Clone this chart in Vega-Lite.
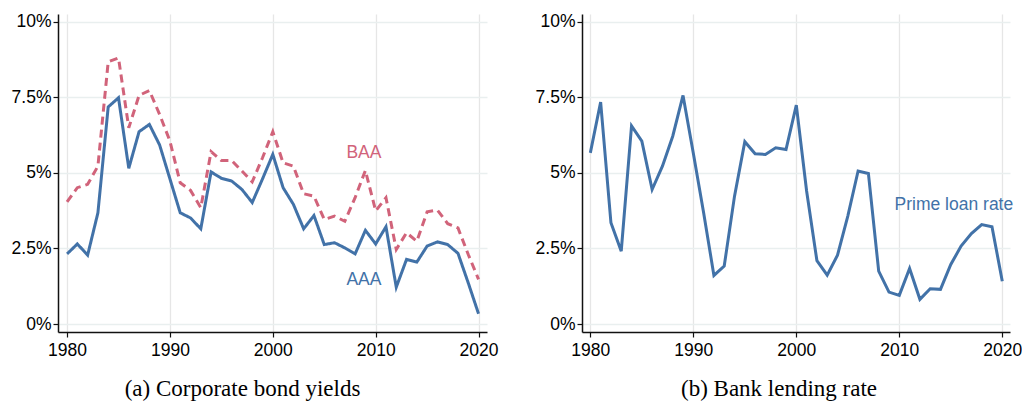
{
  "$schema": "https://vega.github.io/schema/vega-lite/v6.json",
  "background": "white",
  "padding": {"left": 11, "top": 12, "right": 0, "bottom": 0},
  "config": {
    "view": {"stroke": null},
    "axis": {
      "domainColor": "#111111", "domainWidth": 1.5,
      "tickColor": "#111111", "tickWidth": 1.2, "tickSize": 5,
      "labelFont": "Liberation Sans", "labelFontSize": 17.5, "labelColor": "#000000",
      "gridWidth": 1.3, "title": null, "labelFlush": false, "labelOverlap": false
    },
    "title": {"font": "Liberation Serif", "fontSize": 23, "fontWeight": "normal", "color": "#000000", "orient": "bottom", "anchor": "middle", "frame": "group"}
  },
  "datasets": {
    "bonds": [
      {"year": 1980, "series": "AAA", "value": 2.32}, {"year": 1981, "series": "AAA", "value": 2.65}, {"year": 1982, "series": "AAA", "value": 2.28}, {"year": 1983, "series": "AAA", "value": 3.68}, {"year": 1984, "series": "AAA", "value": 7.18}, {"year": 1985, "series": "AAA", "value": 7.48}, {"year": 1986, "series": "AAA", "value": 5.15}, {"year": 1987, "series": "AAA", "value": 6.36}, {"year": 1988, "series": "AAA", "value": 6.6}, {"year": 1989, "series": "AAA", "value": 5.92},
      {"year": 1990, "series": "AAA", "value": 4.8}, {"year": 1991, "series": "AAA", "value": 3.68}, {"year": 1992, "series": "AAA", "value": 3.51}, {"year": 1993, "series": "AAA", "value": 3.15}, {"year": 1994, "series": "AAA", "value": 5.03}, {"year": 1995, "series": "AAA", "value": 4.82}, {"year": 1996, "series": "AAA", "value": 4.73}, {"year": 1997, "series": "AAA", "value": 4.45}, {"year": 1998, "series": "AAA", "value": 4.02}, {"year": 1999, "series": "AAA", "value": 4.8},
      {"year": 2000, "series": "AAA", "value": 5.61}, {"year": 2001, "series": "AAA", "value": 4.51}, {"year": 2002, "series": "AAA", "value": 3.96}, {"year": 2003, "series": "AAA", "value": 3.15}, {"year": 2004, "series": "AAA", "value": 3.59}, {"year": 2005, "series": "AAA", "value": 2.63}, {"year": 2006, "series": "AAA", "value": 2.69}, {"year": 2007, "series": "AAA", "value": 2.52}, {"year": 2008, "series": "AAA", "value": 2.32}, {"year": 2009, "series": "AAA", "value": 3.1},
      {"year": 2010, "series": "AAA", "value": 2.65}, {"year": 2011, "series": "AAA", "value": 3.22}, {"year": 2012, "series": "AAA", "value": 1.22}, {"year": 2013, "series": "AAA", "value": 2.14}, {"year": 2014, "series": "AAA", "value": 2.05}, {"year": 2015, "series": "AAA", "value": 2.58}, {"year": 2016, "series": "AAA", "value": 2.72}, {"year": 2017, "series": "AAA", "value": 2.63}, {"year": 2018, "series": "AAA", "value": 2.34}, {"year": 2019, "series": "AAA", "value": 1.36}, {"year": 2020, "series": "AAA", "value": 0.34},
      {"year": 1980, "series": "BAA", "value": 4.04}, {"year": 1981, "series": "BAA", "value": 4.51}, {"year": 1982, "series": "BAA", "value": 4.62}, {"year": 1983, "series": "BAA", "value": 5.22}, {"year": 1984, "series": "BAA", "value": 8.67}, {"year": 1985, "series": "BAA", "value": 8.8}, {"year": 1986, "series": "BAA", "value": 6.49}, {"year": 1987, "series": "BAA", "value": 7.56}, {"year": 1988, "series": "BAA", "value": 7.72}, {"year": 1989, "series": "BAA", "value": 6.93},
      {"year": 1990, "series": "BAA", "value": 6.05}, {"year": 1991, "series": "BAA", "value": 4.67}, {"year": 1992, "series": "BAA", "value": 4.42}, {"year": 1993, "series": "BAA", "value": 3.85}, {"year": 1994, "series": "BAA", "value": 5.7}, {"year": 1995, "series": "BAA", "value": 5.41}, {"year": 1996, "series": "BAA", "value": 5.41}, {"year": 1997, "series": "BAA", "value": 5.06}, {"year": 1998, "series": "BAA", "value": 4.7}, {"year": 1999, "series": "BAA", "value": 5.5},
      {"year": 2000, "series": "BAA", "value": 6.36}, {"year": 2001, "series": "BAA", "value": 5.33}, {"year": 2002, "series": "BAA", "value": 5.22}, {"year": 2003, "series": "BAA", "value": 4.31}, {"year": 2004, "series": "BAA", "value": 4.23}, {"year": 2005, "series": "BAA", "value": 3.46}, {"year": 2006, "series": "BAA", "value": 3.57}, {"year": 2007, "series": "BAA", "value": 3.4}, {"year": 2008, "series": "BAA", "value": 4.18}, {"year": 2009, "series": "BAA", "value": 5.08},
      {"year": 2010, "series": "BAA", "value": 3.74}, {"year": 2011, "series": "BAA", "value": 4.18}, {"year": 2012, "series": "BAA", "value": 2.47}, {"year": 2013, "series": "BAA", "value": 3.02}, {"year": 2014, "series": "BAA", "value": 2.74}, {"year": 2015, "series": "BAA", "value": 3.71}, {"year": 2016, "series": "BAA", "value": 3.77}, {"year": 2017, "series": "BAA", "value": 3.32}, {"year": 2018, "series": "BAA", "value": 3.18}, {"year": 2019, "series": "BAA", "value": 2.3}, {"year": 2020, "series": "BAA", "value": 1.48}
    ],
    "prime": [
      {"year": 1980, "value": 5.66}, {"year": 1981, "value": 7.34}, {"year": 1982, "value": 3.35}, {"year": 1983, "value": 2.41}, {"year": 1984, "value": 6.55}, {"year": 1985, "value": 6.05}, {"year": 1986, "value": 4.45}, {"year": 1987, "value": 5.22}, {"year": 1988, "value": 6.21}, {"year": 1989, "value": 7.56},
      {"year": 1990, "value": 5.65}, {"year": 1991, "value": 3.68}, {"year": 1992, "value": 1.61}, {"year": 1993, "value": 1.92}, {"year": 1994, "value": 4.23}, {"year": 1995, "value": 6.03}, {"year": 1996, "value": 5.63}, {"year": 1997, "value": 5.61}, {"year": 1998, "value": 5.83}, {"year": 1999, "value": 5.77},
      {"year": 2000, "value": 7.24}, {"year": 2001, "value": 4.4}, {"year": 2002, "value": 2.1}, {"year": 2003, "value": 1.62}, {"year": 2004, "value": 2.28}, {"year": 2005, "value": 3.57}, {"year": 2006, "value": 5.06}, {"year": 2007, "value": 4.98}, {"year": 2008, "value": 1.75}, {"year": 2009, "value": 1.06},
      {"year": 2010, "value": 0.95}, {"year": 2011, "value": 1.84}, {"year": 2012, "value": 0.82}, {"year": 2013, "value": 1.17}, {"year": 2014, "value": 1.15}, {"year": 2015, "value": 1.97}, {"year": 2016, "value": 2.58}, {"year": 2017, "value": 2.99}, {"year": 2018, "value": 3.29}, {"year": 2019, "value": 3.22}, {"year": 2020, "value": 1.42}
    ],
    "bondLabels": [
      {"label": "BAA", "series": "BAA", "year": 2008.86, "value": 5.65},
      {"label": "AAA", "series": "AAA", "year": 2008.86, "value": 1.45}
    ],
    "primeLabels": [
      {"label": "Prime loan rate", "year": 2015.3, "value": 3.93}
    ]
  },
  "hconcat": [
    {
      "width": 429, "height": 318,
      "title": {"text": "(a) Corporate bond yields", "dx": -30, "offset": 19},
      "encoding": {
        "x": {"field": "year", "type": "quantitative", "scale": {"domain": [1979.12, 2020.82], "nice": false, "zero": false},
              "axis": {"values": [1980, 1990, 2000, 2010, 2020], "format": "d", "labelPadding": 4, "gridColor": "#e6e6e6"}},
        "y": {"field": "value", "type": "quantitative", "scale": {"domain": [-0.26, 10.25], "nice": false, "zero": false},
              "axis": {"values": [0, 2.5, 5, 7.5, 10], "labelExpr": "datum.value + '%'", "labelPadding": 2, "gridColor": "#e9efef"}}
      },
      "layer": [
        {
          "data": {"name": "bonds"},
          "mark": {"type": "line", "strokeWidth": 3, "strokeJoin": "miter"},
          "encoding": {
            "color": {"field": "series", "type": "nominal", "scale": {"domain": ["AAA", "BAA"], "range": ["#4272a8", "#d1637a"]}, "legend": null},
            "strokeDash": {"field": "series", "type": "nominal", "scale": {"domain": ["AAA", "BAA"], "range": [[1, 0], [8, 5]]}, "legend": null}
          }
        },
        {
          "data": {"name": "bondLabels"},
          "mark": {"type": "text", "font": "Liberation Sans", "fontSize": 17.5, "align": "center", "baseline": "middle"},
          "encoding": {
            "text": {"field": "label"},
            "color": {"field": "series", "type": "nominal", "scale": {"domain": ["AAA", "BAA"], "range": ["#4272a8", "#d1637a"]}, "legend": null}
          }
        }
      ]
    },
    {
      "width": 428, "height": 318,
      "title": {"text": "(b) Bank lending rate", "dx": -17, "offset": 19},
      "encoding": {
        "x": {"field": "year", "type": "quantitative", "scale": {"domain": [1979.19, 2020.75], "nice": false, "zero": false},
              "axis": {"values": [1980, 1990, 2000, 2010, 2020], "format": "d", "labelPadding": 4, "gridColor": "#e6e6e6"}},
        "y": {"field": "value", "type": "quantitative", "scale": {"domain": [-0.26, 10.25], "nice": false, "zero": false},
              "axis": {"values": [0, 2.5, 5, 7.5, 10], "labelExpr": "datum.value + '%'", "labelPadding": 2, "gridColor": "#e9efef"}}
      },
      "layer": [
        {
          "data": {"name": "prime"},
          "mark": {"type": "line", "strokeWidth": 3, "color": "#4272a8", "strokeJoin": "miter"},
          "encoding": {}
        },
        {
          "data": {"name": "primeLabels"},
          "mark": {"type": "text", "font": "Liberation Sans", "fontSize": 17.5, "align": "center", "baseline": "middle", "color": "#4272a8"},
          "encoding": {"text": {"field": "label"}}
        }
      ]
    }
  ],
  "spacing": 36
}
